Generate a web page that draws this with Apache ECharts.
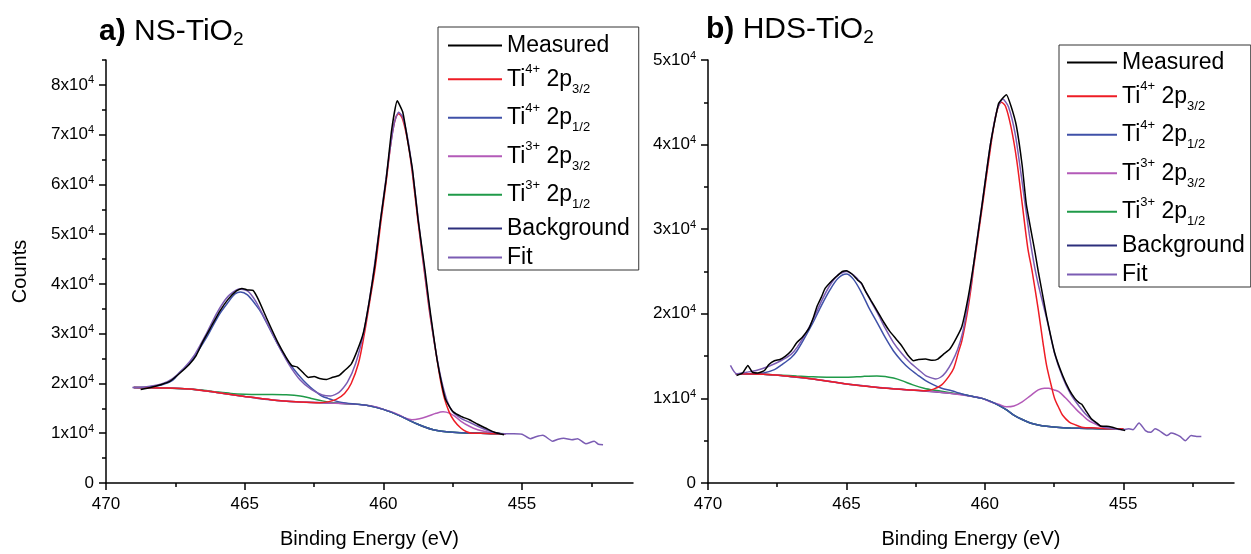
<!DOCTYPE html>
<html>
<head>
<meta charset="utf-8">
<script src="https://cdn.jsdelivr.net/npm/echarts@6.0.0/dist/echarts.min.js"></script>
<style>html,body{margin:0;padding:0;background:#fff;}#c{width:1251px;height:554px;}</style>
</head>
<body>
<div id="c"></div>
<script>
// ---- tick values ----
const xMajorTicks = [470, 465, 460, 455];
const xMinorTicks = [467.5, 462.5, 457.5, 452.5];
const aYMajorTicks = [0, 10000, 20000, 30000, 40000, 50000, 60000, 70000, 80000];
const aYMinorTicks = [5000, 15000, 25000, 35000, 45000, 55000, 65000, 75000, 85000];
const bYMajorTicks = [0, 10000, 20000, 30000, 40000, 50000];
const bYMinorTicks = [5000, 15000, 25000, 35000, 45000];
const legendNames = ['Measured', 'Ti4+ 2p3/2', 'Ti4+ 2p1/2', 'Ti3+ 2p3/2', 'Ti3+ 2p1/2', 'Background', 'Fit'];

// ---- panel a) NS-TiO2 : [binding energy (eV), counts] ----
const aMeasured = [[468.75,18800],[468.4,19200],[468.0,19800],[467.7,20400],[467.35,22000],[467.0,23800],[466.75,25600],[466.5,28500],[466.2,31500],[465.9,34500],[465.6,36900],[465.3,38600],[465.1,39100],[464.9,38800],[464.7,38700],[464.5,36800],[464.2,33000],[463.8,28200],[463.5,25200],[463.3,23600],[463.1,23300],[462.9,22200],[462.7,21200],[462.5,21400],[462.3,21000],[462.05,20800],[461.85,21200],[461.6,21600],[461.4,22600],[461.16,23900],[460.95,26500],[460.72,30200],[460.5,36800],[460.3,44000],[460.1,53000],[459.9,61000],[459.7,71000],[459.5,76800],[459.3,74500],[459.1,68000],[458.95,63000],[458.75,53000],[458.5,42800],[458.37,36900],[458.2,30000],[458.07,25000],[457.9,20000],[457.77,17000],[457.6,15200],[457.48,14300],[457.2,13400],[456.9,12700],[456.6,11800],[456.3,11000],[456.0,10200],[455.8,9900],[455.65,9700]];
const aFit = [[469.05,19200],[468.6,19300],[468.0,19900],[467.6,21000],[467.2,23000],[466.8,25800],[466.4,29800],[466.0,34200],[465.6,37500],[465.2,39000],[464.9,38600],[464.6,36500],[464.2,32200],[463.8,27800],[463.4,23800],[463.0,20700],[462.6,18800],[462.2,17700],[461.9,17500],[461.6,18200],[461.3,20200],[461.0,24000],[460.7,30500],[460.4,40500],[460.1,53000],[459.8,65500],[459.6,72500],[459.45,74500],[459.3,73500],[459.1,68500],[458.9,60500],[458.7,51000],[458.5,42000],[458.3,33500],[458.1,26200],[457.9,20500],[457.7,16500],[457.5,14300],[457.2,13000],[456.9,12200],[456.6,11400],[456.3,10700],[456.0,10200],[455.7,9900],[455.3,9900],[455.0,9800],[454.7,8900],[454.5,9300],[454.25,9600],[453.9,8400],[453.7,8800],[453.5,9000],[453.2,8700],[453.0,8900],[452.7,7900],[452.4,8400],[452.25,7800],[452.08,7700]];
const aBackground = [[469.0,19200],[468.0,19100],[467.0,18900],[466.5,18600],[466.0,18200],[465.5,17800],[465.0,17400],[464.5,17000],[464.0,16700],[463.5,16450],[463.0,16300],[462.5,16200],[462.0,16100],[461.5,16000],[461.0,15850],[460.6,15600],[460.3,15300],[460.0,14800],[459.7,14200],[459.4,13500],[459.1,12700],[458.8,11900],[458.5,11200],[458.2,10700],[457.9,10400],[457.5,10200],[457.0,10050],[456.5,10000],[456.0,9900],[455.6,9900]];
const aTi4p12 = [[469.0,19200],[468.5,19300],[468.0,19700],[467.6,20600],[467.35,22200],[467.0,24000],[466.75,25900],[466.4,29000],[466.2,31000],[465.9,34000],[465.6,36300],[465.35,38000],[465.15,38400],[464.9,37800],[464.6,35800],[464.4,34200],[464.1,31000],[463.8,27800],[463.5,25000],[463.22,22800],[462.9,20700],[462.64,19300],[462.4,18200],[462.2,17400],[462.0,17000],[461.8,16600],[461.5,16200],[461.0,15850],[460.6,15600],[460.0,14800],[459.4,13500],[458.8,11900],[458.2,10700],[457.5,10200],[456.5,10000],[455.6,9900]];
const aTi3p12 = [[469.0,19200],[468.0,19100],[467.0,18900],[466.5,18650],[466.0,18300],[465.5,18000],[465.0,17850],[464.5,17800],[464.0,17800],[463.5,17750],[463.0,17500],[462.6,17000],[462.2,16500],[461.8,16150],[461.5,16000],[461.0,15850],[460.6,15600],[460.0,14800],[459.4,13500],[458.8,11900],[458.2,10700],[457.5,10200],[456.5,10000],[455.6,9900]];
const aTi4p32 = [[469.0,19200],[468.0,19100],[467.0,18900],[466.0,18200],[465.0,17400],[464.0,16700],[463.0,16300],[462.3,16150],[462.0,16300],[461.7,16800],[461.4,18000],[461.16,20000],[460.9,24000],[460.7,29500],[460.5,36200],[460.3,43000],[460.1,52000],[459.9,60500],[459.7,69500],[459.55,73500],[459.45,74200],[459.3,73000],[459.1,68000],[458.95,62000],[458.75,52500],[458.5,41500],[458.35,35000],[458.22,30200],[458.07,25000],[457.93,20300],[457.8,17000],[457.63,14300],[457.45,12500],[457.2,11000],[457.0,10300],[456.8,10000],[456.5,10000],[456.0,9900],[455.6,9900]];
const aTi3p32 = [[469.0,19200],[468.0,19100],[467.0,18900],[466.0,18200],[465.0,17400],[464.0,16700],[463.0,16300],[462.0,16100],[461.0,15850],[460.3,15300],[460.0,14800],[459.7,14300],[459.4,13600],[459.2,13000],[458.97,12700],[458.7,12900],[458.4,13400],[458.1,14000],[457.85,14300],[457.6,14000],[457.4,13300],[457.2,12400],[456.9,11400],[456.6,10700],[456.3,10300],[456.0,10000],[455.6,9900]];

// ---- panel b) HDS-TiO2 ----
const bMeasured = [[468.97,12700],[468.75,13000],[468.56,13900],[468.4,13100],[468.2,13000],[467.96,13300],[467.8,14000],[467.6,14450],[467.4,14600],[467.2,15000],[467.0,15600],[466.79,16600],[466.6,17200],[466.35,18300],[466.2,19500],[466.06,20900],[465.9,22000],[465.77,23000],[465.5,24000],[465.33,24500],[465.15,25000],[465.0,25100],[464.8,24700],[464.6,24000],[464.45,23600],[464.33,22800],[464.1,21500],[463.88,20300],[463.65,19000],[463.44,17950],[463.2,17000],[463.0,16200],[462.8,15200],[462.57,14450],[462.4,14600],[462.14,14650],[461.9,14500],[461.7,14650],[461.5,15200],[461.27,15800],[461.05,17000],[460.83,18500],[460.6,22000],[460.39,26200],[460.1,32900],[459.8,40000],[459.51,44800],[459.35,45500],[459.22,45900],[459.05,44500],[458.86,42200],[458.65,37500],[458.5,32900],[458.2,27500],[458.07,25000],[457.9,22000],[457.77,19700],[457.48,15400],[457.19,12700],[456.95,11000],[456.75,10000],[456.6,9500],[456.5,9300],[456.32,8400],[456.15,7600],[455.96,7100],[455.8,6700],[455.6,6700],[455.4,6600],[455.2,6400],[454.93,6200]];
const bFit = [[469.19,13900],[468.97,12900],[468.6,13100],[468.26,13300],[467.8,13800],[467.37,14450],[467.0,15200],[466.79,16000],[466.5,17500],[466.21,19300],[465.9,21500],[465.63,23200],[465.3,24600],[465.0,25000],[464.75,24600],[464.47,23600],[464.2,22000],[463.88,20100],[463.6,18300],[463.3,16600],[463.0,15300],[462.72,14300],[462.4,13400],[462.14,12700],[461.9,12400],[461.77,12300],[461.6,12500],[461.41,13100],[461.2,14200],[460.98,15800],[460.8,17800],[460.69,19700],[460.5,23500],[460.39,26200],[460.1,33000],[459.8,40000],[459.55,44200],[459.35,45400],[459.15,44500],[458.9,41200],[458.65,35500],[458.4,29500],[458.2,25500],[458.0,22500],[457.77,19500],[457.48,15300],[457.19,12500],[456.9,10500],[456.6,9100],[456.32,8000],[456.0,7100],[455.7,6600],[455.4,6450],[455.0,6300],[454.8,6400],[454.65,6300],[454.43,7100],[454.2,6200],[454.0,6000],[453.85,6400],[453.7,6200],[453.42,5600],[453.27,5900],[453.13,5800],[452.95,5500],[452.76,5000],[452.55,5600],[452.35,5500],[452.18,5500]];
const bBackground = [[469.0,12900],[468.0,12850],[467.37,12700],[466.8,12500],[466.21,12300],[465.6,12000],[465.0,11700],[464.4,11500],[463.88,11300],[463.3,11150],[462.72,11000],[462.1,10850],[461.56,10700],[461.1,10550],[460.69,10400],[460.4,10200],[460.1,10000],[459.8,9650],[459.51,9200],[459.2,8600],[458.94,8000],[458.65,7500],[458.36,7100],[458.07,6850],[457.77,6700],[457.3,6550],[456.9,6500],[456.3,6450],[455.7,6400],[455.0,6400]];
const bTi4p12 = [[469.0,12900],[468.5,12900],[468.0,13000],[467.6,13400],[467.37,13900],[467.0,14800],[466.79,15600],[466.5,17200],[466.2,19000],[465.9,21000],[465.6,22800],[465.3,24200],[465.0,24700],[464.75,24100],[464.47,22600],[464.2,20800],[463.88,18900],[463.6,17200],[463.3,15600],[463.0,14400],[462.72,13500],[462.4,12700],[462.14,12100],[461.85,11600],[461.56,11200],[461.2,10900],[460.9,10600],[460.69,10400],[460.4,10200],[460.1,10000],[459.8,9650],[459.51,9200],[459.2,8600],[458.94,8000],[458.65,7500],[458.36,7100],[458.07,6850],[457.77,6700],[457.3,6550],[456.9,6500],[456.3,6450],[455.7,6400],[455.0,6400]];
const bTi3p12 = [[469.0,12900],[468.0,12850],[467.37,12750],[466.8,12650],[466.2,12550],[465.6,12500],[465.0,12500],[464.4,12600],[463.9,12650],[463.6,12600],[463.3,12400],[463.0,12100],[462.6,11600],[462.2,11200],[461.8,10950],[461.3,10700],[460.8,10450],[460.4,10200],[460.1,10000],[459.8,9650],[459.51,9200],[459.2,8600],[458.94,8000],[458.65,7500],[458.36,7100],[458.07,6850],[457.77,6700],[457.3,6550],[456.9,6500],[456.3,6450],[455.7,6400],[455.0,6400]];
const bTi4p32 = [[469.0,12900],[468.0,12850],[467.37,12700],[466.21,12300],[465.0,11700],[463.88,11300],[462.72,11000],[462.14,10900],[461.85,11100],[461.56,11600],[461.3,12600],[461.12,13600],[460.95,15500],[460.83,16800],[460.65,19800],[460.5,23000],[460.39,25800],[460.1,32500],[459.8,39500],[459.6,43500],[459.4,45000],[459.25,44500],[459.05,42000],[458.85,38200],[458.65,33000],[458.45,27800],[458.29,25000],[458.07,20500],[457.9,16600],[457.77,13900],[457.6,11500],[457.48,10000],[457.3,8700],[457.19,8000],[456.95,7200],[456.75,6900],[456.5,6600],[456.0,6500],[455.5,6400],[455.0,6400]];
const bTi3p32 = [[469.0,12900],[468.0,12850],[467.0,12600],[466.0,12200],[465.0,11700],[464.0,11350],[463.0,11050],[462.0,10850],[461.0,10500],[460.4,10200],[460.1,10000],[459.8,9600],[459.51,9300],[459.22,9000],[458.95,9100],[458.65,9600],[458.36,10300],[458.07,11000],[457.85,11200],[457.7,11200],[457.5,11000],[457.33,10800],[457.1,10100],[456.9,9400],[456.7,8700],[456.47,8000],[456.3,7500],[456.1,7100],[455.9,6800],[455.74,6600],[455.4,6450],[455.0,6400]];

// ---- styling ----
const FONT = '"Liberation Sans", Arial, Helvetica, sans-serif';
const colors = {
  'Measured': '#000000',
  'Ti4+ 2p3/2': '#ee1c25',
  'Ti4+ 2p1/2': '#3f51a8',
  'Ti3+ 2p3/2': '#b35ab8',
  'Ti3+ 2p1/2': '#1f9a48',
  'Background': '#2c2f7c',
  'Fit': '#7b5cb3'
};
const legendLabel = {
  'Measured': '{p|Measured}',
  'Ti4+ 2p3/2': '{ts|Ti}{sup|4+}{ts| 2p}{sub|3/2}',
  'Ti4+ 2p1/2': '{ts|Ti}{sup|4+}{ts| 2p}{sub|1/2}',
  'Ti3+ 2p3/2': '{ts|Ti}{sup|3+}{ts| 2p}{sub|3/2}',
  'Ti3+ 2p1/2': '{ts|Ti}{sup|3+}{ts| 2p}{sub|1/2}',
  'Background': '{p|Background}',
  'Fit': '{p|Fit}'
};
const legendRich = {
  p: {fontSize: 23, lineHeight: 23, color: '#000', fontFamily: FONT},
  ts: {fontSize: 23, lineHeight: 32.5, color: '#000', fontFamily: FONT},
  sup: {fontSize: 13, lineHeight: 20, verticalAlign: 'top', color: '#000', fontFamily: FONT},
  sub: {fontSize: 13, lineHeight: 12.5, verticalAlign: 'bottom', color: '#000', fontFamily: FONT}
};
const yRich = {
  n: {fontSize: 17, lineHeight: 20, color: '#000', fontFamily: FONT},
  e: {fontSize: 11, lineHeight: 7, verticalAlign: 'top', color: '#000', fontFamily: FONT}
};
function yFmt(v) { return v === 0 ? '{n|0}' : '{n|' + (v / 10000) + 'x10}{e|4}'; }
const axisLineStyle = {color: '#000', width: 1.5};

function mainX(grid, name) {
  return {gridIndex: grid, type: 'value', min: 451, max: 470, inverse: true, position: 'bottom',
    axisLine: {show: true, onZero: false, lineStyle: axisLineStyle},
    axisTick: {show: true, length: 7, customValues: xMajorTicks, lineStyle: axisLineStyle},
    axisLabel: {show: true, customValues: xMajorTicks, margin: 13, fontSize: 17, color: '#000', fontFamily: FONT},
    splitLine: {show: false},
    name: name, nameLocation: 'middle', nameGap: 46,
    nameTextStyle: {fontSize: 20, color: '#000', fontFamily: FONT}};
}
function minorX(grid) {
  return {gridIndex: grid, type: 'value', min: 451, max: 470, inverse: true, position: 'bottom',
    axisLine: {show: false, onZero: false},
    axisTick: {show: true, length: 4, customValues: xMinorTicks, lineStyle: axisLineStyle},
    axisLabel: {show: false}, splitLine: {show: false}};
}
function mainY(grid, max, ticks, name) {
  return {gridIndex: grid, type: 'value', min: 0, max: max, position: 'left',
    axisLine: {show: true, onZero: false, lineStyle: axisLineStyle},
    axisTick: {show: true, length: 7, customValues: ticks, lineStyle: axisLineStyle},
    axisLabel: {show: true, customValues: ticks, margin: 12, formatter: yFmt, rich: yRich},
    splitLine: {show: false},
    name: name, nameLocation: 'middle', nameGap: 76,
    nameTextStyle: {fontSize: 20, color: '#000', fontFamily: FONT}};
}
function minorY(grid, max, ticks) {
  return {gridIndex: grid, type: 'value', min: 0, max: max, position: 'left',
    axisLine: {show: false, onZero: false},
    axisTick: {show: true, length: 4, customValues: ticks, lineStyle: axisLineStyle},
    axisLabel: {show: false}, splitLine: {show: false}};
}
function line(name, data, xi, yi, smooth) {
  return {name: name, type: 'line', data: data, xAxisIndex: xi, yAxisIndex: yi,
    showSymbol: false, symbol: 'none', smooth: smooth, silent: true,
    lineStyle: {color: colors[name], width: 1.5}, itemStyle: {color: colors[name]}};
}
function legend(left, top, itemWidth, pad) {
  return {orient: 'vertical', left: left, top: top, itemWidth: itemWidth, itemHeight: 2, itemGap: 6,
    icon: 'rect', selectedMode: false, data: legendNames,
    backgroundColor: '#fff', borderColor: '#333', borderWidth: 1, borderRadius: 0, padding: pad,
    formatter: n => legendLabel[n], textStyle: {color: '#000', fontSize: 23, fontFamily: FONT, rich: legendRich}};
}
const titleRich = {
  b: {fontSize: 30, fontWeight: 'bold', lineHeight: 34, color: '#000', fontFamily: FONT},
  r: {fontSize: 30, fontWeight: 'normal', lineHeight: 34, color: '#000', fontFamily: FONT},
  s: {fontSize: 19, fontWeight: 'normal', lineHeight: 8, verticalAlign: 'bottom', color: '#000', fontFamily: FONT}
};

const option = {
  animation: false,
  backgroundColor: '#ffffff',
  textStyle: {fontFamily: FONT},
  title: [
    {text: '{b|a)}{r| NS-TiO}{s|2}', left: 99, top: 15, padding: 0, textStyle: {fontWeight: 'normal', rich: titleRich}},
    {text: '{b|b)}{r| HDS-TiO}{s|2}', left: 706, top: 13, padding: 0, textStyle: {fontWeight: 'normal', rich: titleRich}}
  ],
  legend: [legend(438, 27, 54, [7, 9, 1, 10]), legend(1059, 45, 50, [6, 6, 1, 8])],
  grid: [
    {left: 106, top: 60, width: 527, height: 429, containLabel: false},
    {left: 708, top: 60, width: 526, height: 429, containLabel: false}
  ],
  xAxis: [mainX(0, 'Binding Energy (eV)'), minorX(0), mainX(1, 'Binding Energy (eV)'), minorX(1)],
  yAxis: [mainY(0, 85000, aYMajorTicks, 'Counts'), minorY(0, 85000, aYMinorTicks),
          mainY(1, 50000, bYMajorTicks, ''), minorY(1, 50000, bYMinorTicks)],
  series: [
    line('Background', aBackground, 0, 0, 0.3),
    line('Ti3+ 2p1/2', aTi3p12, 0, 0, 0.3),
    line('Ti3+ 2p3/2', aTi3p32, 0, 0, 0.3),
    line('Ti4+ 2p1/2', aTi4p12, 0, 0, 0.3),
    line('Ti4+ 2p3/2', aTi4p32, 0, 0, 0.3),
    line('Fit', aFit, 0, 0, 0.2),
    line('Measured', aMeasured, 0, 0, 0.15),
    line('Background', bBackground, 2, 2, 0.3),
    line('Ti3+ 2p1/2', bTi3p12, 2, 2, 0.3),
    line('Ti3+ 2p3/2', bTi3p32, 2, 2, 0.3),
    line('Ti4+ 2p1/2', bTi4p12, 2, 2, 0.3),
    line('Ti4+ 2p3/2', bTi4p32, 2, 2, 0.3),
    line('Fit', bFit, 2, 2, 0.2),
    line('Measured', bMeasured, 2, 2, 0.15)
  ]
};
const chart = echarts.init(document.getElementById('c'), null, {renderer: 'canvas'});
chart.setOption(option);
</script>
</body>
</html>
